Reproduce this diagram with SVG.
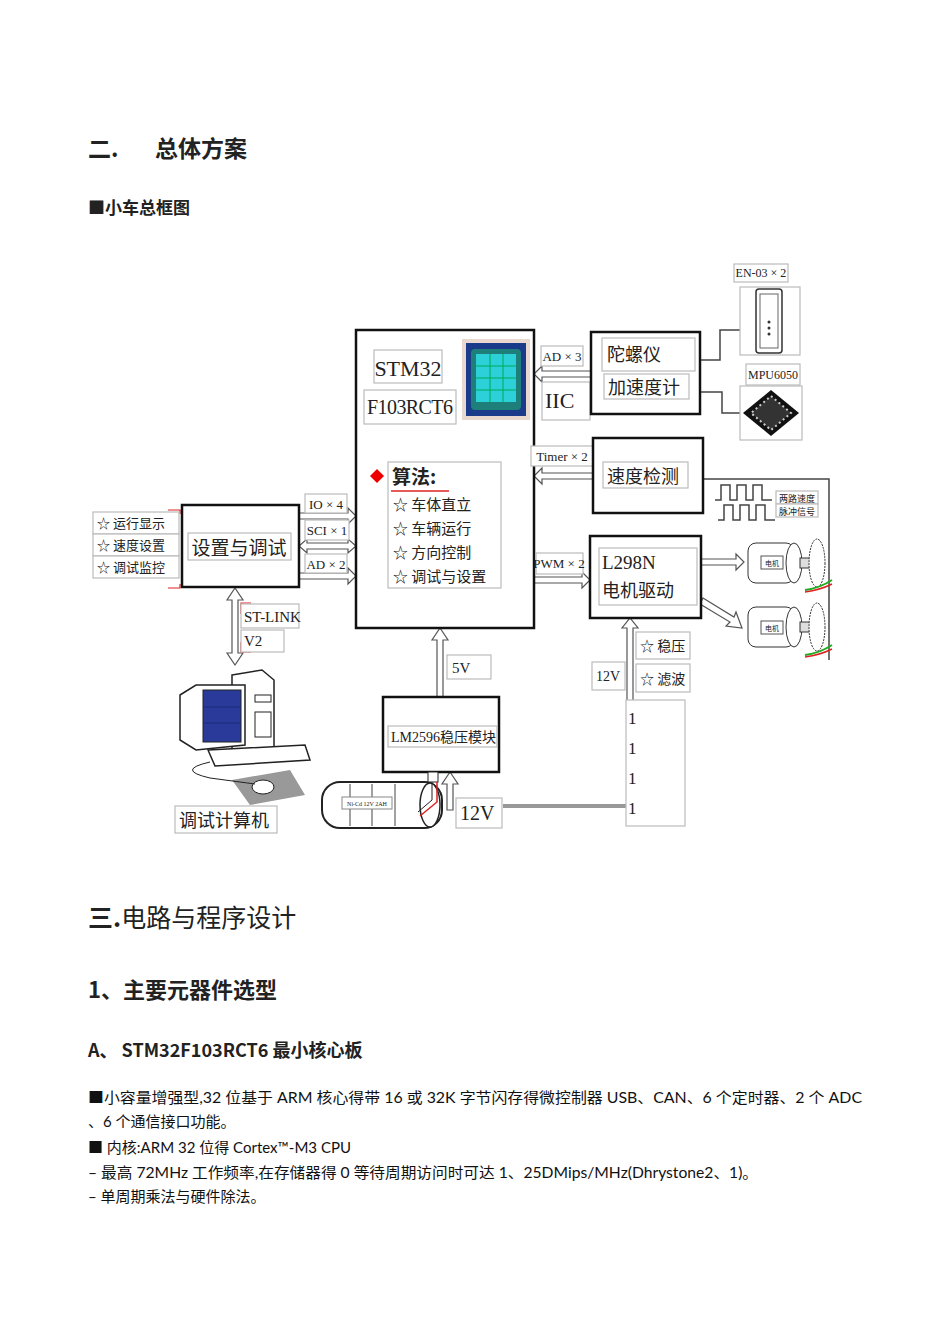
<svg xmlns="http://www.w3.org/2000/svg" width="950" height="1344" viewBox="0 0 950 1344">
<style>
.t{font-family:"Liberation Serif","Noto Sans CJK SC",serif;fill:#222}
.s{font-family:"Noto Sans CJK SC",sans-serif;fill:#222}
.b{fill:#fff;stroke:#111;stroke-width:2.5}
.l{fill:#fff;stroke:#bbb;stroke-width:1.2}
.w{fill:none;stroke:#444;stroke-width:1.5}
.dbl{fill:#fff;stroke:#555;stroke-width:1.2}
.p{font-family:"Lato","Noto Sans CJK SC",sans-serif;fill:#111}
</style>
<rect width="950" height="1344" fill="#fff"/>
<text x="88" y="157" class="s" font-size="23" font-weight="bold">二.</text>
<text x="155" y="157" class="s" font-size="23" font-weight="bold">总体方案</text>
<text x="88" y="214" class="s" font-size="17" font-weight="bold">■小车总框图</text>

<g id="connectors">
<polygon class="dbl" points="299,513 348,513 348,508 356,516 348,524 348,519 299,519"/>
<polygon class="dbl" points="299,546 307,539 307,543 348,543 348,539 356,546 348,553 348,549 307,549 307,553"/>
<polygon class="dbl" points="299,573 348,573 348,568 356,576 348,584 348,579 299,579"/>
<polygon class="dbl" points="591,371 542,371 542,366 534,374 542,382 542,377 591,377"/>
<polygon class="dbl" points="593,473 542,473 542,468 534,476 542,484 542,479 593,479"/>
<polygon class="dbl" points="534,577 582,577 582,572 590,580 582,588 582,583 534,583"/>
<polygon class="dbl" points="701,559 736,559 736,554 744,562 736,570 736,565 701,565"/>
<polygon class="dbl" points="703,598 734,617 736,612 742,628 726,626 730,622 700,604"/>
<polygon class="dbl" points="627,710 627,628 622,628 630,618 638,628 633,628 633,710"/>
<polygon class="dbl" points="437,697 437,640 432,640 440,628 448,640 443,640 443,697"/>
<polygon class="dbl" points="447,810 447,784 442,784 450,772 458,784 453,784 453,810"/>
<polygon class="dbl" points="232,600 227,600 235,588 243,600 238,600 238,653 243,653 235,665 227,653 232,653"/>
<line x1="503" y1="806" x2="633" y2="806" stroke="#333" stroke-width="3"/>
<line x1="503" y1="806" x2="633" y2="806" stroke="#fff" stroke-width="1"/>
<polyline class="w" points="700,360 720,360 720,330 740,330"/>
<polyline class="w" points="700,392 722,392 722,413 740,413"/>
<polyline class="w" points="703,479 829,479 829,660"/>
<polyline points="168,510 180,510 180,514" fill="none" stroke="#d22" stroke-width="1.2"/>
<polyline points="168,588 180,588 180,584" fill="none" stroke="#d22" stroke-width="1.2"/>
<polyline points="251,603 241,603 241,614" fill="none" stroke="#d22" stroke-width="1.2"/>
<polyline points="251,652 241,652 241,642" fill="none" stroke="#d22" stroke-width="1.2"/>
</g>

<g id="stm32">
<rect class="b" x="356" y="330" width="178" height="298"/>
<rect class="l" x="374" y="350" width="68" height="33"/>
<text x="408" y="376" class="t" font-size="22" text-anchor="middle">STM32</text>
<rect class="l" x="364" y="390" width="92" height="34"/>
<text x="410" y="414" class="t" font-size="20" text-anchor="middle" textLength="86">F103RCT6</text>
<g id="chip">
<rect x="462" y="339" width="68" height="81" fill="#e8d8d0"/>
<rect x="466" y="343" width="60" height="73" fill="#1a3a8a"/>
<rect x="471" y="349" width="50" height="61" rx="4" fill="#1e7f7a"/>
<rect x="476" y="354" width="40" height="48" fill="#2bd0d8"/>
<g stroke="#0a5" stroke-width="1"><line x1="476" y1="366" x2="516" y2="366"/><line x1="476" y1="378" x2="516" y2="378"/><line x1="476" y1="390" x2="516" y2="390"/><line x1="490" y1="354" x2="490" y2="402"/><line x1="503" y1="354" x2="503" y2="402"/></g>
</g>
<rect class="l" x="388" y="462" width="113" height="126"/>
<polygon points="377,469 384,476 377,483 370,476" fill="#e00"/>
<text x="392" y="484" class="s" font-size="19" font-weight="bold">算法:</text>
<line x1="391" y1="491" x2="449" y2="491" stroke="#d22" stroke-width="1.5"/>
<text x="393" y="510" class="s" font-size="15">☆ 车体直立</text>
<text x="393" y="534" class="s" font-size="15">☆ 车辆运行</text>
<text x="393" y="558" class="s" font-size="15">☆ 方向控制</text>
<text x="393" y="582" class="s" font-size="15">☆ 调试与设置</text>
</g>

<g id="setting">
<rect class="b" x="182" y="505" width="117" height="82"/>
<rect class="l" x="188" y="533" width="103" height="27"/>
<text x="239" y="555" class="s" font-size="19" text-anchor="middle">设置与调试</text>
</g>
<g id="left-labels">
<rect class="l" x="93" y="512" width="86" height="22"/><text x="97" y="528" class="s" font-size="13">☆ 运行显示</text>
<rect class="l" x="93" y="534" width="86" height="22"/><text x="97" y="550" class="s" font-size="13">☆ 速度设置</text>
<rect class="l" x="93" y="556" width="86" height="22"/><text x="97" y="572" class="s" font-size="13">☆ 调试监控</text>
</g>
<g id="if-labels">
<rect class="l" x="305" y="494" width="42" height="19"/><text x="326" y="509" class="t" font-size="13" text-anchor="middle">IO × 4</text>
<rect class="l" x="305" y="520" width="44" height="20"/><text x="327" y="535" class="t" font-size="13" text-anchor="middle">SCI × 1</text>
<rect class="l" x="305" y="554" width="42" height="19"/><text x="326" y="569" class="t" font-size="13" text-anchor="middle">AD × 2</text>
<rect class="l" x="541" y="346" width="42" height="20"/><text x="562" y="361" class="t" font-size="13" text-anchor="middle">AD × 3</text>
<rect class="l" x="542" y="382" width="48" height="38"/><text x="545" y="408" class="t" font-size="22">IIC</text>
<rect class="l" x="531" y="446" width="63" height="20"/><text x="562" y="461" class="t" font-size="13" text-anchor="middle">Timer × 2</text>
<rect class="l" x="536" y="553" width="47" height="21"/><text x="559" y="568" class="t" font-size="13" text-anchor="middle">PWM × 2</text>
</g>

<g id="gyro">
<rect class="b" x="591" y="332" width="109" height="82"/>
<rect class="l" x="602" y="338" width="93" height="33"/>
<text x="607" y="361" class="s" font-size="18">陀螺仪</text>
<rect class="l" x="604" y="374" width="85" height="25"/>
<text x="608" y="394" class="s" font-size="18">加速度计</text>
</g>
<g id="speed">
<rect class="b" x="593" y="438" width="110" height="75"/>
<rect class="l" x="603" y="462" width="85" height="26"/>
<text x="607" y="483" class="s" font-size="18">速度检测</text>
</g>
<g id="l298n">
<rect class="b" x="590" y="536" width="111" height="82"/>
<rect class="l" x="599" y="548" width="98" height="57"/>
<text x="602" y="569" class="t" font-size="19">L298N</text>
<text x="602" y="597" class="s" font-size="18">电机驱动</text>
</g>
<g id="power-labels">
<rect class="l" x="636" y="632" width="54" height="27"/><text x="640" y="651" class="s" font-size="14">☆ 稳压</text>
<rect class="l" x="636" y="664" width="54" height="28"/><text x="640" y="684" class="s" font-size="14">☆ 滤波</text>
<rect class="l" x="592" y="662" width="33" height="28"/><text x="596" y="681" class="t" font-size="14">12V</text>
<rect class="l" x="626" y="700" width="59" height="126"/>
<text x="628" y="724" class="t" font-size="17">1</text>
<text x="628" y="754" class="t" font-size="17">1</text>
<text x="628" y="784" class="t" font-size="17">1</text>
<text x="628" y="814" class="t" font-size="17">1</text>
</g>
<g id="encoder">
<rect class="l" x="734" y="264" width="54" height="18"/><text x="761" y="277" class="t" font-size="12" text-anchor="middle">EN-03 × 2</text>
<rect class="l" x="740" y="287" width="60" height="68"/>
<rect x="756" y="289" width="26" height="64" rx="3" fill="#fff" stroke="#333" stroke-width="1.5"/>
<rect x="760" y="294" width="18" height="54" fill="none" stroke="#666"/>
<g fill="#333"><circle cx="769" cy="322" r="1.5"/><circle cx="769" cy="328" r="1.5"/><circle cx="769" cy="334" r="1.5"/></g>
</g>
<g id="mpu6050">
<rect class="l" x="746" y="364" width="54" height="21"/><text x="773" y="379" class="t" font-size="12" text-anchor="middle">MPU6050</text>
<rect class="l" x="740" y="386" width="62" height="54"/>
<polygon points="771,390 799,413 771,436 743,413" fill="#111"/>
<polygon points="771,396 791,413 771,430 751,413" fill="#333" stroke="#ccc" stroke-dasharray="2,3" stroke-width="2"/>
</g>
<g id="pulse">
<polyline class="w" points="715,500 721,500 721,485 730,485 730,500 737,500 737,485 746,485 746,500 753,500 753,485 762,485 762,500 772,500"/>
<polyline class="w" points="718,520 724,520 724,505 733,505 733,520 740,520 740,505 749,505 749,520 756,520 756,505 765,505 765,520 775,520"/>
<rect class="l" x="776" y="491" width="42" height="13"/><text x="797" y="502" class="s" font-size="9" text-anchor="middle">两路速度</text>
<rect class="l" x="776" y="504" width="42" height="13"/><text x="797" y="515" class="s" font-size="9" text-anchor="middle">脉冲信号</text>
</g>
<g id="motor1">
<rect x="748" y="543" width="46" height="40" rx="8" fill="#fff" stroke="#333"/>
<ellipse cx="794" cy="563" rx="8" ry="20" fill="#fff" stroke="#333"/>
<rect x="761" y="556" width="22" height="13" fill="#fff" stroke="#555"/><text x="772" y="566" class="s" font-size="7" text-anchor="middle">电机</text>
<rect x="800" y="558" width="10" height="10" fill="#ddd" stroke="#333"/>
<ellipse cx="817" cy="563" rx="8" ry="24" fill="#fff" stroke="#333" stroke-dasharray="2,1"/>
<path d="M805,590 Q820,588 832,580" stroke="#2a2" stroke-width="2" fill="none"/>
<path d="M805,592 Q820,590 832,584" stroke="#d22" stroke-width="1.5" fill="none"/>
</g>
<g id="motor2">
<rect x="748" y="607" width="46" height="40" rx="8" fill="#fff" stroke="#333"/>
<ellipse cx="794" cy="627" rx="8" ry="20" fill="#fff" stroke="#333"/>
<rect x="761" y="621" width="22" height="13" fill="#fff" stroke="#555"/><text x="772" y="631" class="s" font-size="7" text-anchor="middle">电机</text>
<rect x="800" y="622" width="10" height="10" fill="#ddd" stroke="#333"/>
<ellipse cx="817" cy="627" rx="8" ry="24" fill="#fff" stroke="#333" stroke-dasharray="2,1"/>
<path d="M805,655 Q820,653 832,645" stroke="#2a2" stroke-width="2" fill="none"/>
<path d="M805,657 Q820,655 832,649" stroke="#d22" stroke-width="1.5" fill="none"/>
</g>
<g id="stlink">
<rect class="l" x="241" y="604" width="58" height="24"/><text x="244" y="622" class="t" font-size="15">ST-LINK</text>
<rect class="l" x="241" y="630" width="43" height="22"/><text x="244" y="646" class="t" font-size="15">V2</text>
</g>
<g id="computer">
<polygon points="232,675 262,670 274,680 274,750 232,752" fill="#fff" stroke="#222" stroke-width="1.5"/>
<rect x="255" y="695" width="16" height="7" fill="none" stroke="#222"/>
<rect x="255" y="712" width="16" height="25" fill="none" stroke="#222"/>
<polygon points="180,695 196,685 245,685 245,745 196,750 180,740" fill="#fff" stroke="#222" stroke-width="1.5"/>
<rect x="203" y="690" width="38" height="52" fill="#2a3a9a" stroke="#222"/>
<line x1="203" y1="707" x2="241" y2="707" stroke="#1a2a7a"/>
<line x1="203" y1="723" x2="241" y2="723" stroke="#1a2a7a"/>
<polygon points="208,750 305,745 310,760 215,766" fill="#fff" stroke="#222" stroke-width="1.5"/>
<polygon points="232,780 290,770 305,795 250,805" fill="#999"/>
<ellipse cx="263" cy="787" rx="11" ry="7" fill="#fff" stroke="#222"/>
<path d="M210,762 Q175,770 210,778 Q240,782 255,784" fill="none" stroke="#222"/>
<rect class="l" x="175" y="806" width="102" height="27"/>
<text x="179" y="827" class="s" font-size="18">调试计算机</text>
</g>
<g id="lm2596">
<rect class="b" x="383" y="697" width="116" height="75"/>
<rect class="l" x="388" y="726" width="109" height="21"/>
<text x="391" y="742" class="t" font-size="14">LM2596稳压模块</text>
<rect class="l" x="447" y="655" width="44" height="24"/><text x="452" y="673" class="t" font-size="15">5V</text>
</g>
<g id="battery">
<rect x="322" y="782" width="120" height="46" rx="18" fill="#fff" stroke="#222" stroke-width="2"/>
<ellipse cx="430" cy="805" rx="10" ry="22" fill="#fff" stroke="#222" stroke-width="1.5"/>
<g stroke="#444"><line x1="350" y1="784" x2="350" y2="826"/><line x1="372" y1="784" x2="372" y2="826"/><line x1="395" y1="784" x2="395" y2="826"/></g>
<rect x="342" y="797" width="50" height="12" fill="#fff" stroke="#888"/><text x="367" y="806" class="t" font-size="6" text-anchor="middle">Ni-Cd 12V 2AH</text>
<rect x="428" y="772" width="10" height="10" fill="#fff" stroke="#222"/>
<path d="M432,782 L432,800 L418,812" stroke="#222" fill="none"/>
<path d="M437,782 L437,802 L420,816" stroke="#d22" stroke-width="1.5" fill="none"/>
<rect class="l" x="456" y="798" width="46" height="30"/><text x="460" y="820" class="t" font-size="20">12V</text>
</g>

<text x="88" y="927" class="s" font-size="25"><tspan font-weight="bold">三.</tspan>电路与程序设计</text>
<text x="88" y="998" class="s" font-size="22" font-weight="bold">1、主要元器件选型</text>
<text x="88" y="1057" class="s" font-size="18" font-weight="bold">A、 STM32F103RCT6 最小核心板</text>
<text x="88" y="1103" class="p" font-size="15" textLength="774" lengthAdjust="spacingAndGlyphs">■小容量增强型,32 位基于 ARM 核心得带 16 或 32K 字节闪存得微控制器 USB、CAN、6 个定时器、2 个 ADC</text>
<text x="88" y="1127" class="p" font-size="15">、6 个通信接口功能。</text>
<text x="88" y="1153" class="p" font-size="15" textLength="263" lengthAdjust="spacingAndGlyphs">■ 内核:ARM 32 位得 Cortex™-M3 CPU</text>
<text x="88" y="1178" class="p" font-size="15" textLength="670" lengthAdjust="spacingAndGlyphs">– 最高 72MHz 工作频率,在存储器得 0 等待周期访问时可达 1、25DMips/MHz(Dhrystone2、1)。</text>
<text x="88" y="1202" class="p" font-size="15">– 单周期乘法与硬件除法。</text>
</svg>
